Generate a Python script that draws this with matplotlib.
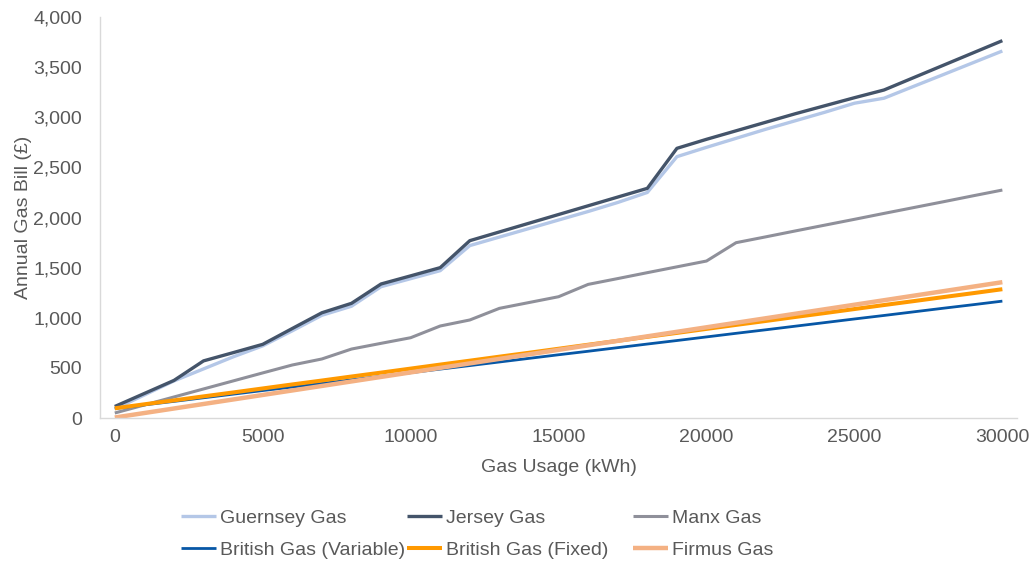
import matplotlib.pyplot as plt
from matplotlib.ticker import FuncFormatter

plt.rcParams['font.family'] = ['Liberation Sans', 'DejaVu Sans']

usage = list(range(0, 30001, 1000))

guernsey = [90, 230, 370, 490, 610, 720, 870, 1025, 1115, 1310, 1390, 1470,
            1720, 1805, 1890, 1975, 2060, 2150, 2250, 2607, 2700, 2790, 2880,
            2965, 3050, 3140, 3190, 3308, 3425, 3543, 3661]
jersey = [115, 245, 375, 570, 652, 735, 893, 1050, 1144, 1337, 1418, 1500,
          1769, 1856, 1943, 2030, 2117, 2204, 2291, 2690, 2780, 2865, 2950,
          3035, 3115, 3195, 3272, 3395, 3518, 3641, 3764]
manx = [50, 130, 210, 290, 370, 450, 529, 589, 688, 745, 801, 918, 978,
        1094, 1152, 1210, 1333, 1391, 1450, 1508, 1566, 1749, 1807, 1866,
        1924, 1982, 2041, 2099, 2157, 2216, 2274]
bg_variable = [95, 131, 166, 202, 238, 274, 309, 345, 381, 416, 452, 488,
               523, 559, 595, 631, 666, 702, 738, 773, 809, 845, 880, 916,
               952, 988, 1023, 1059, 1095, 1130, 1166]
bg_fixed = [97, 137, 176, 216, 255, 295, 335, 374, 414, 453, 493, 533, 572,
            612, 651, 691, 731, 770, 810, 849, 889, 929, 968, 1008, 1047,
            1087, 1127, 1166, 1206, 1245, 1285]
firmus = [5, 50, 95, 140, 185, 230, 275, 320, 365, 410, 455, 500, 545, 590,
          635, 680, 725, 770, 815, 860, 905, 950, 995, 1040, 1085, 1130,
          1175, 1220, 1265, 1310, 1355]

series = [
    ('Guernsey Gas', guernsey, '#B4C7E7', 2.4),
    ('Jersey Gas', jersey, '#44546A', 2.4),
    ('Manx Gas', manx, '#8F909A', 2.2),
    ('British Gas (Variable)', bg_variable, '#0757A6', 2.0),
    ('British Gas (Fixed)', bg_fixed, '#FF9900', 2.9),
    ('Firmus Gas', firmus, '#F4B183', 3.2),
]

grey = '#595959'
fs = 14
fig = plt.figure(figsize=(10.34, 5.63), dpi=100)
ax = fig.add_axes([0.0967, 0.2575, 0.887, 0.7123])

handles = []
for name, vals, col, lw in series:
    h, = ax.plot(usage, vals, color=col, lw=lw, label=name, solid_capstyle='butt')
    handles.append(h)

ax.set_xlim(-500, 30500)
ax.set_ylim(0, 4000)
ax.set_xticks(range(0, 30001, 5000))
ax.set_yticks(range(0, 4001, 500))
ax.yaxis.set_major_formatter(FuncFormatter(lambda v, p: f'{int(v):,}'))
ax.tick_params(length=0, labelsize=fs, labelcolor=grey)
ax.tick_params(axis='y', pad=13)
ax.tick_params(axis='x', pad=8)
for s in ['top', 'right']:
    ax.spines[s].set_visible(False)
for s in ['left', 'bottom']:
    ax.spines[s].set_color('#D9D9D9')
    ax.spines[s].set_linewidth(1.0)

ax.set_xlabel('Gas Usage (kWh)', fontsize=fs, color=grey, labelpad=9)
ax.set_ylabel('Annual Gas Bill (£)', fontsize=fs, color=grey, labelpad=1)

# legend: three columns of two rows, Guernsey/Jersey/Manx across the top
cols_x = [0.175, 0.3936, 0.612]
for i, x in enumerate(cols_x):
    pair = [handles[i], handles[i + 3]]
    fig.legend(pair, [h.get_label() for h in pair], loc='upper left',
               bbox_to_anchor=(x, 0.095), frameon=False, fontsize=fs,
               handlelength=1.8, handletextpad=0.2, borderpad=0,
               borderaxespad=0, labelspacing=0.72, labelcolor=grey)

fig.savefig('out.png', dpi=100)
